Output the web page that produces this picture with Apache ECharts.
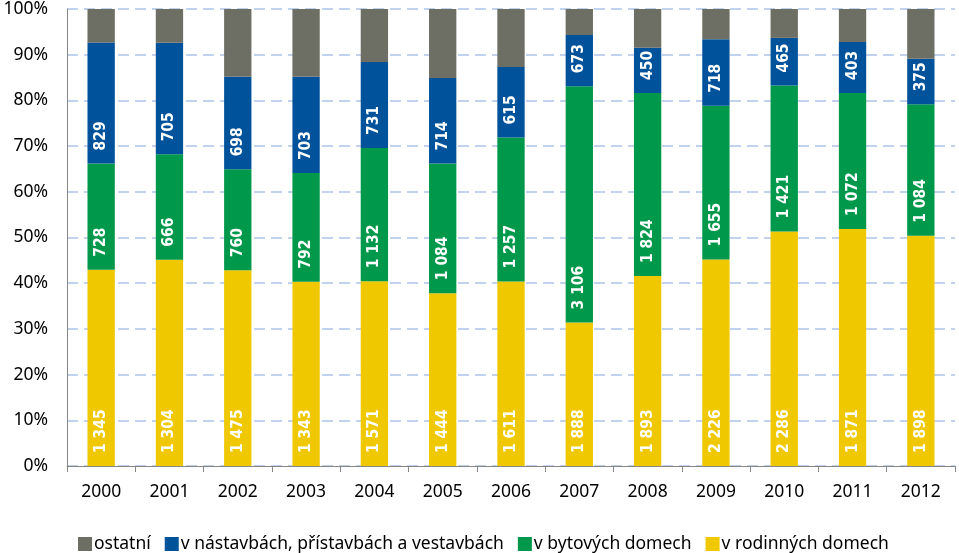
<!DOCTYPE html>
<html><head><meta charset="utf-8">
<script src="https://cdn.jsdelivr.net/npm/echarts@6/dist/echarts.min.js"></script>
<style>html,body{margin:0;padding:0;background:#fff}#c{width:959px;height:553px}</style>
</head><body><div id="c"></div>
<script>
const years = ['2000','2001','2002','2003','2004','2005','2006','2007','2008','2009','2010','2011','2012'];
const rodinne = [1345,1304,1475,1343,1571,1444,1611,1888,1893,2226,2286,1871,1898];
const bytove = [728,666,760,792,1132,1084,1257,3106,1824,1655,1421,1072,1084];
const nastavby = [829,705,698,703,731,714,615,673,450,718,465,403,375];
const ostatni = [230,214,510,493,451,576,507,342,387,325,281,260,411];
const yTicks = [0,10,20,30,40,50,60,70,80,90,100];

const totals = years.map((_, i) => rodinne[i] + bytove[i] + nastavby[i] + ostatni[i]);
const pct = arr => arr.map((v, i) => v / totals[i] * 100);
const fmt = v => String(v).replace(/\B(?=(\d{3})+(?!\d))/g, ' ');

function mkSeries(name, raw, color, showLabel) {
  return {
    name, type: 'bar', stack: 'a', data: pct(raw), barWidth: '40%',
    itemStyle: { color },
    label: {
      show: showLabel, position: 'insideBottom', rotate: 90, distance: 13,
      align: 'left', verticalAlign: 'middle',
      color: '#fff', fontWeight: 'bold', fontSize: 15.5, fontFamily: 'DejaVu Sans Condensed',
      formatter: p => fmt(raw[p.dataIndex])
    }
  };
}

const chart = echarts.init(document.getElementById('c'));
chart.setOption({
  animation: false,
  grid: { left: 67, right: 4, top: 8, bottom: 87 },
  legend: {
    top: 535, left: 78, itemWidth: 14, itemHeight: 14, itemGap: 14,
    icon: 'rect', padding: 0,
    data: ['ostatní', 'v nástavbách, přístavbách a vestavbách', 'v bytových domech', 'v rodinných domech'],
    textStyle: { fontFamily: 'Noto Sans', fontSize: 17.5, color: '#000', padding: [0,0,0,-3] }
  },
  xAxis: {
    type: 'category', data: years,
    axisLine: { lineStyle: { color: '#868686' } },
    axisTick: { show: true, lineStyle: { color: '#868686' }, length: 6 },
    axisLabel: { color: '#000', fontFamily: 'Noto Sans', fontSize: 17.5, margin: 17 }
  },
  yAxis: {
    type: 'value', min: 0, max: 100, interval: 10,
    axisLine: { show: true, lineStyle: { color: '#868686' } },
    axisTick: { show: false },
    axisLabel: { color: '#000', fontFamily: 'Noto Sans', fontSize: 17.5, margin: 19,
      formatter: v => yTicks.includes(v) ? v + '%' : '' },
    splitLine: { lineStyle: { color: '#AFC2E8', type: [11, 6], width: 1.5 } }
  },
  series: [
    mkSeries('v rodinných domech', rodinne, '#F0C800', true),
    mkSeries('v bytových domech', bytove, '#00984A', true),
    mkSeries('v nástavbách, přístavbách a vestavbách', nastavby, '#00529B', true),
    mkSeries('ostatní', ostatni, '#6D6E64', false)
  ]
});
</script></body></html>
